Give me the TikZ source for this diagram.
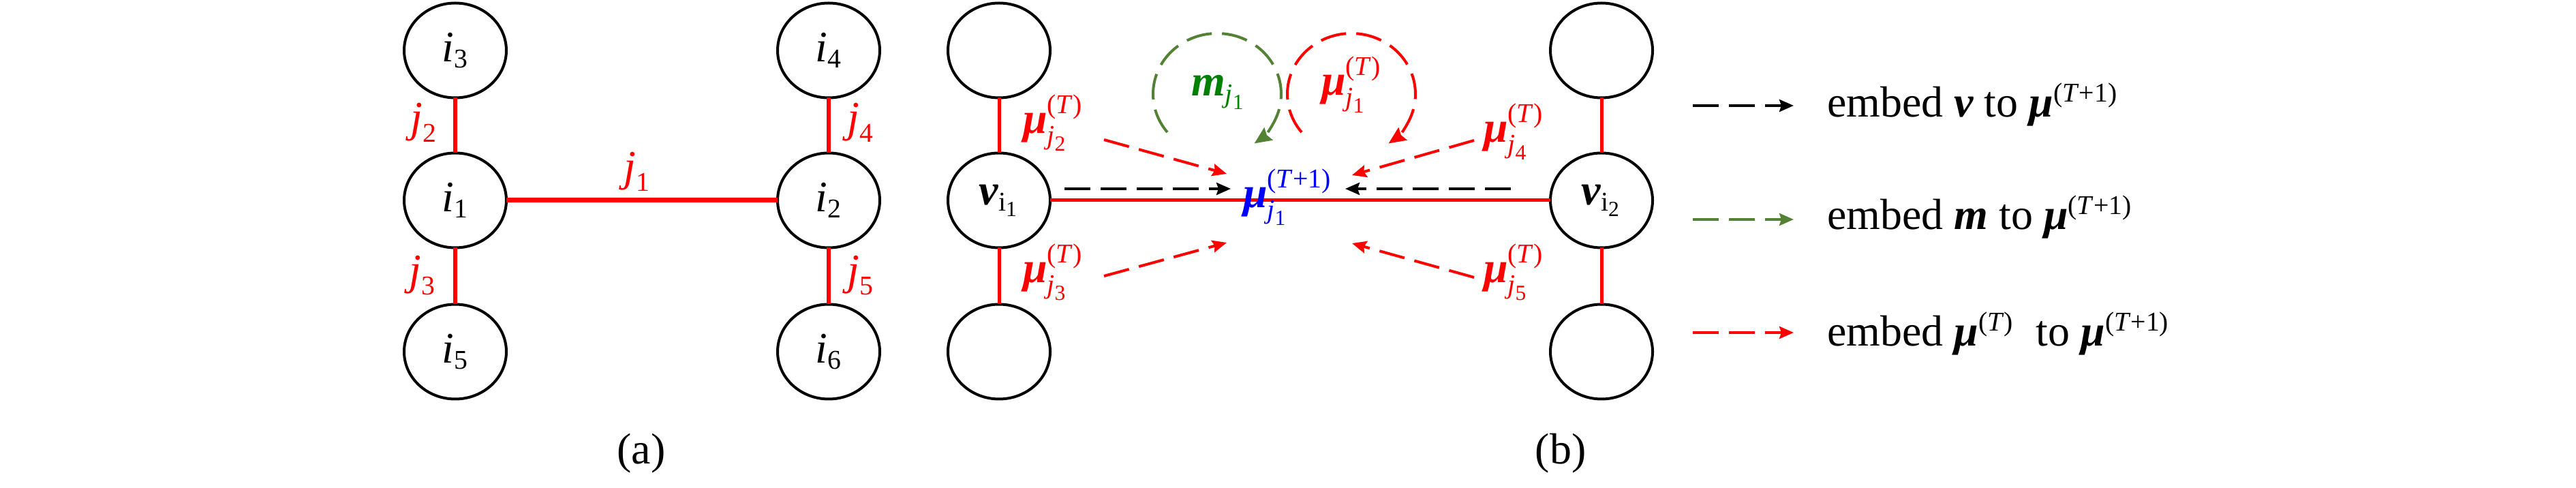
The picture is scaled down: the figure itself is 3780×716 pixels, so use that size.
\documentclass[tikz,border=0pt]{standalone}
\usepackage{fontspec}
\setmainfont{Liberation Serif}
\usepackage{amsmath}
\usetikzlibrary{shapes.geometric,arrows.meta}
\DeclareMathSizes{18.2}{18.2}{11.3}{9}
\definecolor{myred}{RGB}{255,0,0}
\definecolor{mygreen}{RGB}{84,130,53}
\definecolor{mgreen}{RGB}{0,128,0}
\definecolor{myblue}{RGB}{0,0,255}
\newcommand{\bmu}{\text{\bfseries\itshape μ}}
\newcommand{\bv}{\text{\bfseries\itshape v}}
\newcommand{\bm}{\text{\bfseries\itshape m}}
\newcommand{\sT}{\text{(\itshape T\/\upshape)}}
\newcommand{\sTT}{\text{(\itshape T\/\upshape+1)}}
\newcommand{\ji}[1]{\text{\itshape j}_{\text{#1}}}
\newcommand{\ii}[1]{\text{\itshape i}_{\text{#1}}}
\newcommand{\ir}[1]{\text{i}_{\text{#1}}}
\begin{document}
\begin{tikzpicture}[x=0.1mm,y=-0.1mm,
  every node/.style={font=\fontsize{18.2}{22}\selectfont, inner sep=0pt, outer sep=0pt},
  vtx/.style={draw, ellipse, line width=0.4mm, minimum width=15mm, minimum height=13.9mm},
  edge/.style={draw=myred, line width=0.6mm},
  dasharrow/.style={line width=0.4mm, dash pattern=on 3.8mm off 1.5mm,
    -{Stealth[length=2.1mm,width=1.8mm,inset=0.3mm]}},
  redlab/.style={text=myred, anchor=base west},
]
\useasboundingbox (0,0) rectangle (3780,716);

% ---------- (a) ----------
\node[vtx] (i3) at (668,74)  {$\ii{3}$};
\node[vtx] (i1) at (668,294) {$\ii{1}$};
\node[vtx] (i5) at (668,516) {$\ii{5}$};
\node[vtx] (i4) at (1216,74)  {$\ii{4}$};
\node[vtx] (i2) at (1216,294) {$\ii{2}$};
\node[vtx] (i6) at (1216,516) {$\ii{6}$};
\draw[edge] (i3) -- (i1);
\draw[edge] (i1) -- (i5);
\draw[edge] (i4) -- (i2);
\draw[edge] (i2) -- (i6);
\draw[edge, line width=0.7mm] (i1) -- (i2);
\node[text=myred] (lj2) at (622,180) {$\ji{2}$};
\node[text=myred] (lj3) at (620,404) {$\ji{3}$};
\node[text=myred] (lj1) at (935,252) {$\ji{1}$};
\node[text=myred] (lj4) at (1263,180) {$\ji{4}$};
\node[text=myred] (lj5) at (1263,404) {$\ji{5}$};
\node (capa) at (941,665) {(a)};

% ---------- (b) ----------
\node[vtx] (b3) at (1466,74)  {};
\node[vtx] (v1) at (1466,294) {$\bv_{\ir{1}}$};
\node[vtx] (b5) at (1466,516) {};
\node[vtx] (b4) at (2350,74)  {};
\node[vtx] (v2) at (2350,294) {$\bv_{\ir{2}}$};
\node[vtx] (b6) at (2350,516) {};
\draw[edge, line width=0.5mm] (b3) -- (v1);
\draw[edge, line width=0.5mm] (v1) -- (b5);
\draw[edge, line width=0.5mm] (b4) -- (v2);
\draw[edge, line width=0.5mm] (v2) -- (b6);
\draw[edge, line width=0.5mm] (v1) -- (v2);

\node[redlab] (mj2) at (1501,196) {$\bmu^{\sT}_{\ji{2}}$};
\node[redlab] (mj3) at (1501,415) {$\bmu^{\sT}_{\ji{3}}$};
\node[redlab] (mj4) at (2177,209) {$\bmu^{\sT}_{\ji{4}}$};
\node[redlab] (mj5) at (2177,415) {$\bmu^{\sT}_{\ji{5}}$};
\node[redlab] (mj1) at (1939,140) {$\bmu^{\sT}_{\ji{1}}$};
\node[text=myblue, anchor=base west] (mu) at (1824,305) {$\bmu^{\sTT}_{\ji{1}}$};
\node[text=mgreen, anchor=base west] (mm) at (1748,141) {$\bm_{\ji{1}}$};

\coordinate (a2s) at (1620,205); \coordinate (a2e) at (1800,255);
\coordinate (a3s) at (1620,405); \coordinate (a3e) at (1800,356);
\coordinate (a4s) at (2163,206); \coordinate (a4e) at (1984,257);
\coordinate (a5s) at (2163,407); \coordinate (a5e) at (1984,357);
\coordinate (kls) at (1562,277); \coordinate (kle) at (1806,277);
\coordinate (krs) at (2217,277); \coordinate (kre) at (1974,277);
\draw[dasharrow, myred] (a2s) -- (a2e);
\draw[dasharrow, myred] (a3s) -- (a3e);
\draw[dasharrow, myred] (a4s) -- (a4e);
\draw[dasharrow, myred] (a5s) -- (a5e);
\draw[dasharrow, black] (kls) -- (kle);
\draw[dasharrow, black] (krs) -- (kre);

\coordinate (gc) at (1786,138);
\coordinate (rc) at (1983,138);
\draw[dasharrow, mygreen, -{Stealth[length=2.5mm,width=2.2mm,inset=0.3mm]}] (gc) ++(141:94 and 89) arc[start angle=141, end angle=414.5, x radius=94, y radius=89];
\draw[dasharrow, myred, -{Stealth[length=2.5mm,width=2.2mm,inset=0.3mm]}] (rc) ++(141:94 and 89) arc[start angle=141, end angle=414.5, x radius=94, y radius=89];

\node (capb) at (2290,665) {(b)};

% ---------- legend ----------
\coordinate (g1s) at (2484,155); \coordinate (g1e) at (2632,155);
\coordinate (g2s) at (2484,322); \coordinate (g2e) at (2632,322);
\coordinate (g3s) at (2484,488); \coordinate (g3e) at (2632,488);
\draw[dasharrow, black] (g1s) -- (g1e);
\draw[dasharrow, mygreen] (g2s) -- (g2e);
\draw[dasharrow, myred] (g3s) -- (g3e);
\node[anchor=base west] (t1) at (2681,172) {embed $\bv$ to $\bmu^{\sTT}$};
\node[anchor=base west] (t2) at (2681,337) {embed $\bm$ to $\bmu^{\sTT}$};
\node[anchor=base west] (t3) at (2681,508) {embed $\bmu^{\sT}$\ \ to $\bmu^{\sTT}$};
\end{tikzpicture}
\end{document}
